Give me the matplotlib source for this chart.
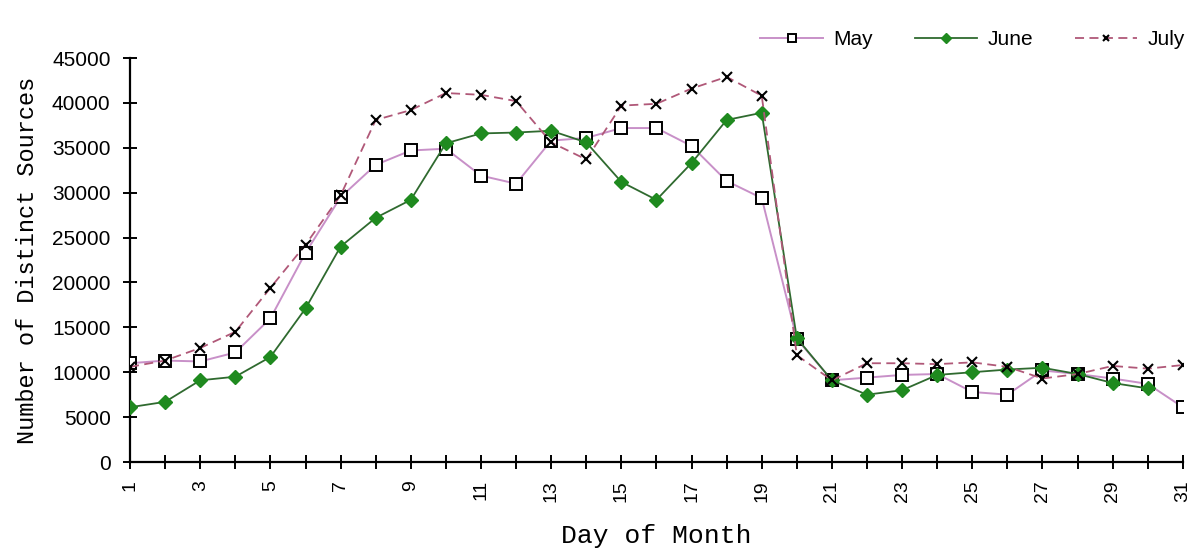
import matplotlib

matplotlib.use("Agg")
import matplotlib.pyplot as plt
import numpy as np

# day of month, distinct sources per day
days_may = list(range(1, 32))
may = [11000, 11300, 11200, 12200, 16000, 23300, 29500, 33100, 34700, 34900,
       31900, 31000, 35800, 36100, 37200, 37200, 35200, 31300, 29400, 13700,
       9100, 9400, 9700, 9800, 7800, 7500, 10200, 9800, 9300, 8700, 6100]

days_june = list(range(1, 31))
june = [6100, 6700, 9100, 9500, 11700, 17100, 24000, 27200, 29200, 35500,
        36600, 36700, 36900, 35600, 31200, 29200, 33300, 38100, 38900, 13800,
        9100, 7500, 8000, 9700, 10000, 10300, 10500, 9800, 8800, 8200]

days_july = list(range(1, 32))
july = [10600, 11300, 12700, 14500, 19400, 24200, 29700, 38100, 39200, 41100,
        40900, 40200, 35600, 33700, 39700, 39900, 41600, 42900, 40800, 11900,
        9100, 11000, 11000, 10900, 11100, 10600, 9300, 9800, 10700, 10400, 10800]

LABEL_FONT = ["Liberation Mono", "DejaVu Sans Mono"]
TICK_FONT = ["Liberation Sans", "DejaVu Sans"]


def main() -> None:
    fig = plt.figure(figsize=(11.93, 5.5), dpi=100)
    ax = fig.add_axes([0.109, 0.16, 0.8825, 0.7345])

    ax.plot(days_may, may, color="#c890c8", linewidth=1.4,
            marker="s", markersize=9, markerfacecolor="white",
            markeredgecolor="black", markeredgewidth=1.4, label="May", zorder=3)
    ax.plot(days_june, june, color="#2f6a2f", linewidth=1.3,
            marker="D", markersize=7, markerfacecolor="#1f8a1f",
            markeredgecolor="#1f8a1f", label="June", zorder=4)
    ax.plot(days_july, july, color="#b05878", linewidth=1.3, linestyle=(0, (5, 3)),
            marker="x", markersize=7, markeredgecolor="black",
            markeredgewidth=1.5, label="July", zorder=5)

    ax.set_xlim(1, 31)
    ax.set_ylim(0, 45000)
    ax.set_xticks(np.arange(1, 32, 1))
    ax.set_xticklabels([str(d) if d % 2 == 1 else "" for d in range(1, 32)],
                       rotation=90, family=TICK_FONT, fontsize=14)
    ax.set_yticks(np.arange(0, 45001, 5000))
    ax.set_yticklabels([str(v) for v in range(0, 45001, 5000)],
                       family=TICK_FONT, fontsize=15)
    ax.tick_params(direction="inout", length=10, width=1.4)
    ax.tick_params(axis="x", pad=8)
    ax.tick_params(axis="y", pad=9)

    for side in ("top", "right"):
        ax.spines[side].set_visible(False)
    for side in ("left", "bottom"):
        ax.spines[side].set_linewidth(1.6)

    ax.set_ylabel("Number of Distinct Sources", family=LABEL_FONT,
                  fontsize=17, labelpad=9)
    ax.set_xlabel("Day of Month", family=LABEL_FONT, fontsize=19, labelpad=16)

    ax.legend(loc="center right", bbox_to_anchor=(1.01, 1.045), ncol=3,
              frameon=False, prop={"family": TICK_FONT, "size": 15},
              handlelength=3.0, handletextpad=0.5, columnspacing=2.0,
              markerscale=0.7, borderaxespad=0)

    fig.savefig("out.png", dpi=100)
    plt.close(fig)


if __name__ == "__main__":
    main()
